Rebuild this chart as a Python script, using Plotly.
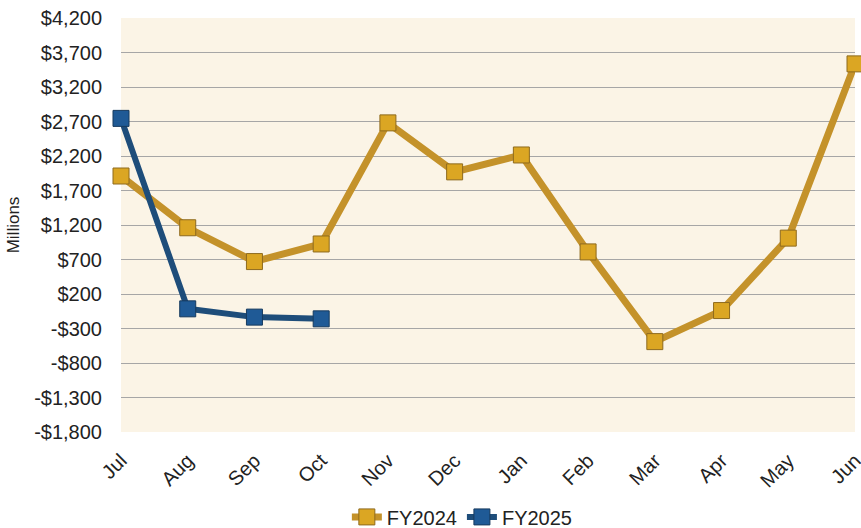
import plotly.graph_objects as go

months = ["Jul", "Aug", "Sep", "Oct", "Nov", "Dec", "Jan", "Feb", "Mar", "Apr", "May", "Jun"]
fy2024 = [1910, 1160, 670, 925, 2680, 1970, 2215, 810, -490, -40, 1010, 3535]
fy2025 = [2745, -15, -135, -160]
y_ticks = list(range(-1800, 4201, 500))


def fmt(v):
    s = "${:,}".format(abs(v))
    return "-" + s if v < 0 else s


y_labels = [fmt(v) for v in y_ticks]

fig = go.Figure()
fig.add_trace(go.Scatter(
    x=months, y=fy2024, name="FY2024", mode="lines+markers",
    line=dict(color="#C4922A", width=7),
    marker=dict(symbol="square", size=16, color="#DBA623", line=dict(color="#8E6A1E", width=1)),
    cliponaxis=False,
))
fig.add_trace(go.Scatter(
    x=months[:len(fy2025)], y=fy2025, name="FY2025", mode="lines+markers",
    line=dict(color="#1E4D7A", width=6),
    marker=dict(symbol="square", size=16, color="#1F5A96", line=dict(color="#163A5E", width=1)),
    cliponaxis=False,
))

fig.update_layout(
    width=861, height=528,
    margin=dict(l=121, r=6, t=18, b=96),
    paper_bgcolor="white",
    plot_bgcolor="#FBF4E6",
    font=dict(family="Liberation Sans, Arial, sans-serif", size=20, color="#222222"),
    showlegend=True,
    legend=dict(orientation="h", x=0.537, xref="container", xanchor="center",
                y=0.021, yref="container", yanchor="middle",
                font=dict(size=20), traceorder="normal"),
)
fig.update_xaxes(
    type="category", categoryorder="array", categoryarray=months,
    range=[0, 11], showgrid=False, tickangle=-45, ticks="", zeroline=False,
    showline=False, tickfont=dict(size=20), automargin=False, ticklabelstandoff=12,
)
fig.update_yaxes(
    range=[-1800, 4200], tickvals=y_ticks, ticktext=y_labels,
    showgrid=True, gridcolor="#A6A6A6", gridwidth=1, zeroline=False,
    showline=False, ticks="", tickfont=dict(size=20), automargin=False,
    ticklabelstandoff=18,
    title=dict(text="Millions", font=dict(size=17), standoff=10),
)
fig.write_html("out.html", config={"displayModeBar": False},
               post_script="document.body.style.margin='0px';")
